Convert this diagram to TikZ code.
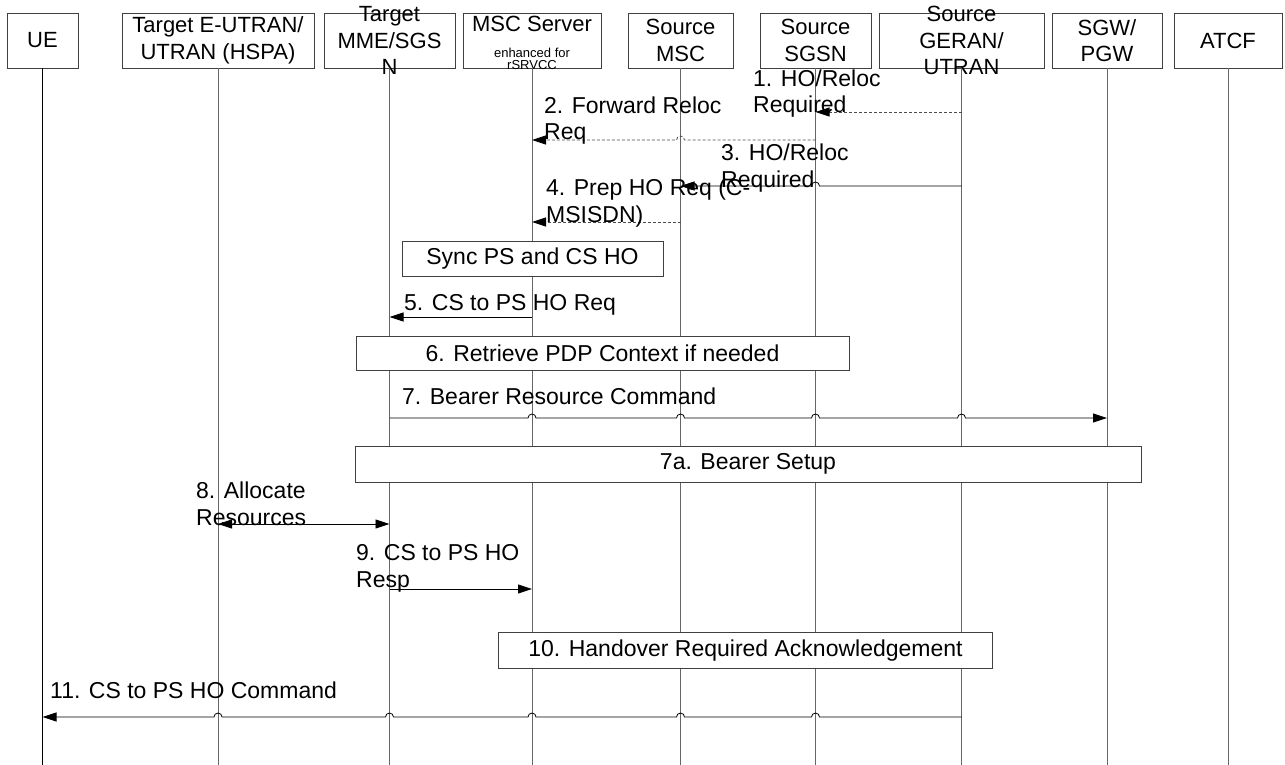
\documentclass[tikz,border=0pt]{standalone}
\usepackage{fontspec}
\setmainfont{Liberation Sans}
\usetikzlibrary{arrows.meta,calc}

\newcommand{\hopR}[2]{-- ($(#1 |- #2)+(-4,0)$) arc[start angle=180,end angle=0,radius=4pt]}
\newcommand{\hopL}[2]{-- ($(#1 |- #2)+(4,0)$) arc[start angle=0,end angle=180,radius=4pt]}

\begin{document}
\begin{tikzpicture}[x=1pt,y=-1pt,
    ent/.style={draw=black!75, line width=0.8pt, minimum height=55pt, inner sep=0pt, align=center, font=\fontsize{22}{26.7}\selectfont},
    hdr/.style={align=center, inner sep=0pt, font=\fontsize{22}{26.7}\selectfont},
    small/.style={align=center, inner sep=0pt, font=\fontsize{13}{12.5}\selectfont},
    life/.style={draw=black!60, line width=0.8pt},
    box/.style={draw=black!75, fill=white, line width=0.8pt, inner sep=0pt, font=\fontsize{23}{26.7}\selectfont},
    lbl/.style={anchor=base west, align=left, inner sep=0pt, font=\fontsize{23}{26.7}\selectfont},
    msg/.style={draw, line width=0.8pt, -{Triangle[length=14pt,width=9pt,color=black]}},
    dmsg/.style={msg, draw=black!70, dash pattern=on 3pt off 2pt}]

\useasboundingbox (0,0) rectangle (1285,765);

\node[ent, minimum width=71pt] (ue) at (42.5,40.5) {UE};
\node[ent, minimum width=192pt] (tran) at (218,40.5) {Target E-UTRAN/\\UTRAN (HSPA)};
\node[ent, minimum width=131pt, label={[hdr]center:Target\\MME/SGS\\N}] (mme) at (389.5,40.5) {};
\node[ent, minimum width=138pt] (msc) at (532,40.5) {};
\node[hdr, anchor=base] (msct) at (532,31.7) {MSC Server};
\node[small, anchor=base] (msce) at (532,70) {enhanced for\\rSRVCC};
\node[ent, minimum width=105pt] (smsc) at (680.5,40.5) {Source\\MSC};
\node[ent, minimum width=111pt] (sgsn) at (815.5,40.5) {Source\\SGSN};
\node[ent, minimum width=165pt, label={[hdr]center:Source\\GERAN/\\UTRAN}] (geran) at (961.5,40.5) {};
\node[ent, minimum width=110pt] (sgw) at (1107,40.5) {SGW/\\PGW};
\node[ent, minimum width=108pt] (atcf) at (1228,40.5) {ATCF};

\coordinate (bot) at (0,765);
\draw[life, draw=black] (ue.south) -- (ue |- bot);
\foreach \n in {tran,mme,msc,smsc,sgsn,geran,sgw,atcf}
    \draw[life] (\n.south) -- (\n |- bot);

\node[box, minimum width=261pt, minimum height=35pt] (sync) at (532.5,258.5) {Sync PS and CS HO};
\node[box, minimum width=493pt, minimum height=34pt] (ctx) at (602.5,353) {6. Retrieve PDP Context if needed};
\node[box, minimum width=786pt, minimum height=36pt] (setup) at (748,464) {7a. Bearer Setup};
\node[box, minimum width=494pt, minimum height=36pt] (ack) at (745.5,650.5) {10. Handover Required Acknowledgement};

\coordinate (r1) at (0,112);
\coordinate (r2) at (0,140);
\coordinate (r3) at (0,186);
\coordinate (r4) at (0,222);
\coordinate (r5) at (0,317);
\coordinate (r7) at (0,418);
\coordinate (r8) at (0,524);
\coordinate (r9) at (0,589);
\coordinate (r11) at (0,717);

\draw[dmsg] (geran |- r1) -- (sgsn |- r1);
\draw[dmsg] (sgsn |- r2) \hopL{smsc}{r2} -- (msc |- r2);
\draw[msg] (geran |- r3) \hopL{sgsn}{r3} -- (smsc |- r3);
\draw[dmsg] (smsc |- r4) -- (msc |- r4);
\draw[msg] (msc |- r5) -- (mme |- r5);
\draw[msg] (mme |- r7) \hopR{msc}{r7} \hopR{smsc}{r7} \hopR{sgsn}{r7} \hopR{geran}{r7} -- (sgw |- r7);
\draw[msg, {Triangle[length=14pt,width=9pt]}-{Triangle[length=14pt,width=9pt]}] (tran |- r8) -- (mme |- r8);
\draw[msg] (mme |- r9) -- (msc |- r9);
\draw[msg] (geran |- r11) \hopL{sgsn}{r11} \hopL{smsc}{r11} \hopL{msc}{r11} \hopL{mme}{r11} \hopL{tran}{r11} -- (ue |- r11);

\node[lbl] (l1) at (753,113) {1. HO/Reloc\\Required};
\node[lbl] (l2) at (544,140) {2. Forward Reloc\\Req};
\node[lbl] (l3) at (721,187) {3. HO/Reloc\\Required};
\node[lbl] (l4) at (546,222) {4. Prep HO Req (C-\\MSISDN)};
\node[lbl] (l5) at (404,310) {5. CS to PS HO Req};
\node[lbl] (l7) at (402,404) {7. Bearer Resource Command};
\node[lbl] (l8) at (196,525) {8. Allocate\\Resources};
\node[lbl] (l9) at (356,587) {9. CS to PS HO\\Resp};
\node[lbl] (l11) at (50,698) {11. CS to PS HO Command};
\end{tikzpicture}
\end{document}
